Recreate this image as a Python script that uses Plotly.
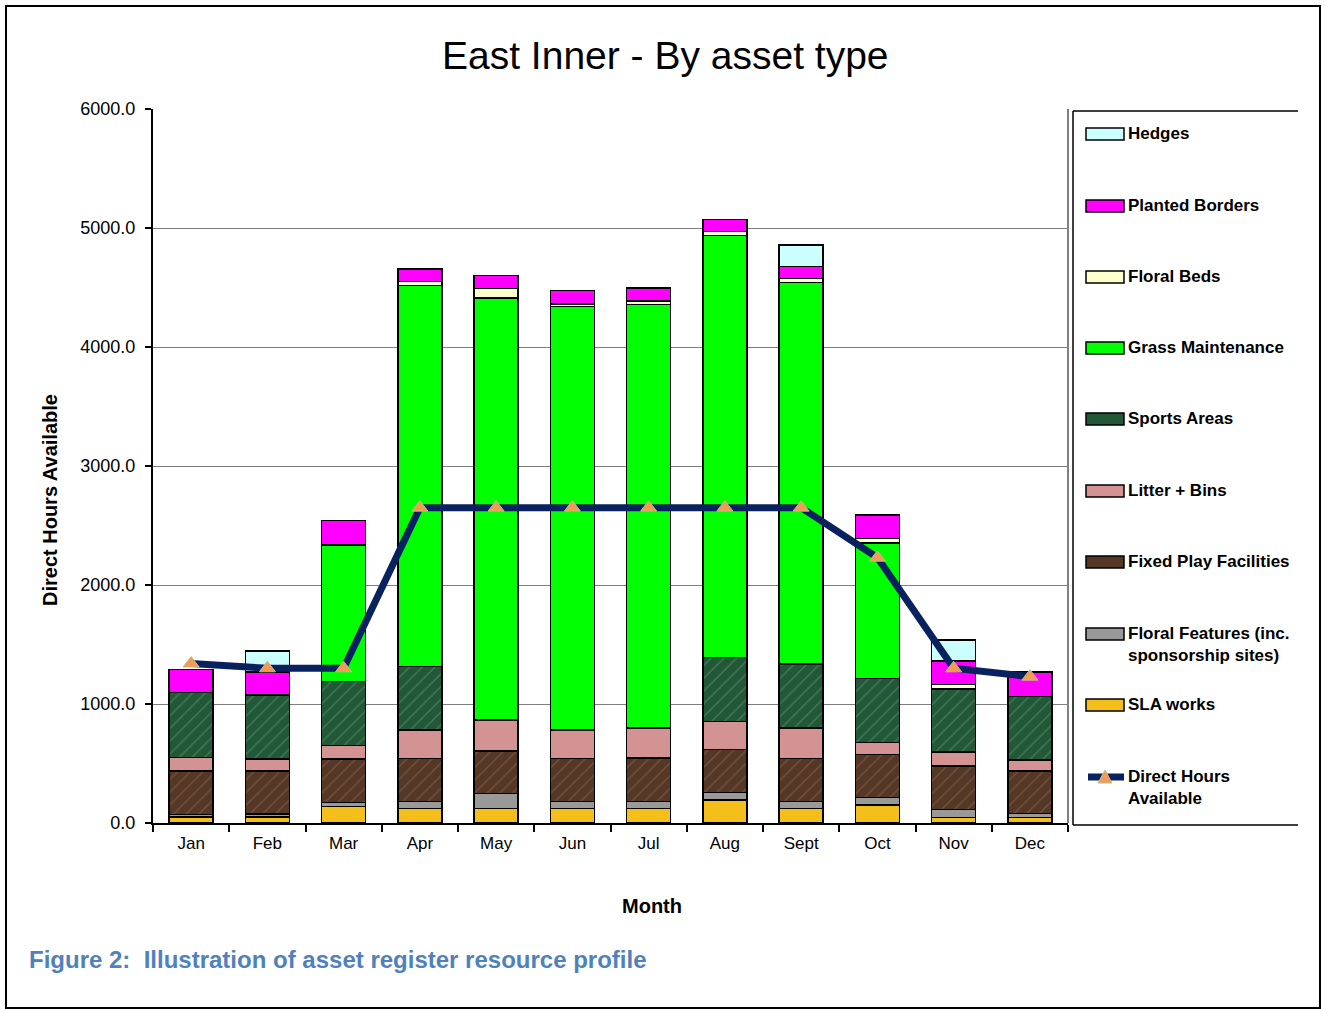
import plotly.graph_objects as go

months = ["Jan", "Feb", "Mar", "Apr", "May", "Jun", "Jul", "Aug", "Sept", "Oct", "Nov", "Dec"]

sla_works = [50, 50, 137, 120, 120, 120, 120, 193, 120, 151, 48, 48]
floral_features = [20, 25, 37, 60, 126, 60, 60, 62, 60, 65, 67, 33]
fixed_play = [367, 362, 364, 364, 361, 364, 367, 364, 364, 361, 364, 356]
litter_bins = [115, 100, 115, 236, 258, 238, 252, 236, 255, 101, 118, 92]
sports_areas = [546, 538, 538, 534, 0, 0, 0, 534, 538, 535, 529, 532]
grass_maint = [0, 0, 1145, 3202, 3546, 3558, 3557, 3549, 3204, 1142, 0, 0]
floral_beds = [0, 0, 0, 34, 81, 20, 31, 32, 34, 37, 39, 0]
planted_borders = [193, 193, 204, 106, 109, 114, 107, 103, 101, 196, 196, 210]
hedges = [0, 179, 0, 0, 0, 0, 0, 0, 182, 0, 177, 0]
direct_hours = [1340, 1300, 1300, 2650, 2650, 2650, 2650, 2650, 2650, 2230, 1300, 1230]

y_ticks = [0, 1000, 2000, 3000, 4000, 5000, 6000]

# Chart geometry (pixels)
W, H = 1326, 1009
PL, PR, PT, PB = 153, 1068, 109, 823
PW, PH = PR - PL, PB - PT


def px(x):
    return (x - PL) / PW


def py(y):
    return (PB - y) / PH


series = [
    ("SLA works", sla_works, "#F5BF1B", None),
    ("Floral Features (inc.<br>sponsorship sites)", floral_features, "#999999", None),
    ("Fixed Play Facilities", fixed_play, "#553726", ("#86654D", "/")),
    ("Litter + Bins", litter_bins, "#D39393", None),
    ("Sports Areas", sports_areas, "#225837", ("#55946A", "/")),
    ("Grass Maintenance", grass_maint, "#00FF00", None),
    ("Floral Beds", floral_beds, "#FFFFCC", None),
    ("Planted Borders", planted_borders, "#FF00FF", None),
    ("Hedges", hedges, "#CCFFFF", None),
]

fig = go.Figure()
for name, vals, color, pat in series:
    marker = dict(color=color, line=dict(color="black", width=1.5))
    if pat:
        marker["pattern"] = dict(shape=pat[1], fgcolor=pat[0], size=9, solidity=0.15, fgopacity=0.6)
    fig.add_trace(go.Bar(x=months, y=vals, name=name, marker=marker, showlegend=False))

fig.add_trace(go.Scatter(
    x=months, y=direct_hours, name="Direct Hours Available", mode="lines+markers",
    line=dict(color="#0A2160", width=7),
    marker=dict(symbol="triangle-up", size=14, color="#F59A55", line=dict(color="#B9BF8C", width=1)),
    showlegend=False,
))

shapes = []
annotations = []

# outer frame
shapes.append(dict(type="rect", xref="paper", yref="paper", x0=px(6), x1=px(1320), y0=py(1008), y1=py(6),
                   line=dict(color="black", width=2), fillcolor="rgba(0,0,0,0)", layer="below"))
# plot area right border
shapes.append(dict(type="line", xref="paper", yref="paper", x0=1, x1=1, y0=0, y1=1,
                   line=dict(color="#808080", width=2)))
# legend box (left, top, bottom)
LX0, LX1, LY0, LY1 = 1073, 1298, 111, 825
for (a, b, c, d) in [(LX0, LY0, LX0, LY1), (LX0, LY0, LX1, LY0), (LX0, LY1, LX1, LY1)]:
    shapes.append(dict(type="line", xref="paper", yref="paper", x0=px(a), y0=py(b), x1=px(c), y1=py(d),
                       line=dict(color="black", width=1.5)))

legend_font = dict(family="Liberation Sans Narrow, Arial Narrow, Liberation Sans", size=17, color="black")
legend_order = list(reversed(series))
centers = [134, 206, 277, 348, 419, 491, 562, 634, 705]
for (name, vals, color, pat), cy in zip(legend_order, centers):
    shapes.append(dict(type="rect", xref="paper", yref="paper", x0=px(1086), x1=px(1124),
                       y0=py(cy + 6), y1=py(cy - 6), fillcolor=color, line=dict(color="black", width=1.5)))
    annotations.append(dict(text="<b>" + name + "</b>", xref="paper", yref="paper", x=px(1126),
                            y=py(cy - 12), xanchor="left", yanchor="top", align="left",
                            showarrow=False, font=legend_font))
# line legend
cy = 777
shapes.append(dict(type="line", xref="paper", yref="paper", x0=px(1088), x1=px(1124), y0=py(cy), y1=py(cy),
                   line=dict(color="#0A2160", width=7)))
tri = f"M {px(1105)} {py(cy - 7)} L {px(1112)} {py(cy + 6)} L {px(1098)} {py(cy + 6)} Z"
shapes.append(dict(type="path", xref="paper", yref="paper", path=tri, fillcolor="#F59A55",
                   line=dict(color="#B9BF8C", width=1)))
annotations.append(dict(text="<b>Direct Hours<br>Available</b>", xref="paper", yref="paper", x=px(1126),
                        y=py(cy - 12), xanchor="left", yanchor="top", align="left",
                        showarrow=False, font=legend_font))

# title and axis titles
annotations.append(dict(text="East Inner - By asset type", xref="paper", yref="paper", x=px(665), y=py(55),
                        xanchor="center", yanchor="middle", showarrow=False,
                        font=dict(family="Liberation Sans, Arial", size=39, color="black")))
annotations.append(dict(text="<b>Direct Hours Available</b>", xref="paper", yref="paper", x=px(50), y=py(500),
                        xanchor="center", yanchor="middle", showarrow=False, textangle=-90,
                        font=dict(family="Liberation Sans, Arial", size=20, color="black")))
annotations.append(dict(text="<b>Month</b>", xref="paper", yref="paper", x=px(652), y=py(906),
                        xanchor="center", yanchor="middle", showarrow=False,
                        font=dict(family="Liberation Sans, Arial", size=20, color="black")))
annotations.append(dict(text="<b>Figure 2:  Illustration of asset register resource profile</b>",
                        xref="paper", yref="paper", x=px(27), y=py(959),
                        xanchor="left", yanchor="middle", showarrow=False,
                        font=dict(family="Liberation Sans, Arial", size=24, color="#4F81BD")))

fig.update_layout(
    width=W, height=H,
    margin=dict(l=PL, r=W - PR, t=PT, b=H - PB, pad=0),
    barmode="stack", bargap=0.42,
    paper_bgcolor="white", plot_bgcolor="white",
    font=dict(family="Liberation Sans, Arial", size=17, color="black"),
    shapes=shapes, annotations=annotations,
    showlegend=False,
)
fig.update_xaxes(
    range=[-0.5, len(months) - 0.5],
    showline=True, linecolor="black", linewidth=2, ticks="outside", tickson="boundaries",
    ticklen=7, tickcolor="black", tickwidth=1.5, showgrid=False,
    tickfont=dict(size=17), ticklabelstandoff=4,
)
fig.update_yaxes(
    range=[0, 6000], tickvals=y_ticks, tickformat=".1f",
    showline=True, linecolor="black", linewidth=2, ticks="outside", ticklen=6,
    tickcolor="black", tickwidth=1.5, showgrid=True, gridcolor="#7f7f7f", gridwidth=1,
    zeroline=False, tickfont=dict(size=18), ticklabelstandoff=6,
)

fig.write_html("out.html")
